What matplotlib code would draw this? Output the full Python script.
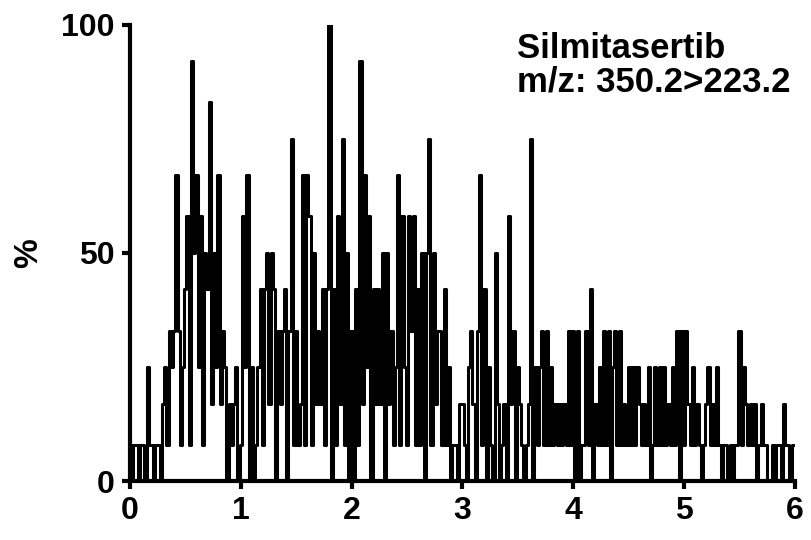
import numpy as np
import matplotlib
matplotlib.use('Agg')
import matplotlib.pyplot as plt

plt.rcParams['font.family'] = ['Liberation Sans', 'DejaVu Sans']
plt.rcParams['font.weight'] = 'bold'

# chromatogram trace (% of max), one point every 0.02 min
t_step = 0.02
intensity = [
    8, 0, 8, 8, 0, 8, 8, 0, 25, 8,
    8, 0, 8, 8, 0, 17, 25, 8, 33, 25,
    33, 67, 33, 8, 25, 42, 58, 8, 92, 50,
    67, 25, 58, 8, 50, 42, 83, 17, 50, 25,
    67, 17, 33, 25, 0, 17, 8, 17, 25, 0,
    8, 58, 25, 67, 0, 25, 0, 8, 25, 42,
    8, 42, 50, 17, 50, 42, 0, 33, 17, 33,
    42, 0, 33, 75, 8, 33, 8, 17, 67, 8,
    67, 58, 8, 50, 17, 33, 17, 42, 8, 42,
    100, 0, 42, 8, 58, 17, 75, 8, 50, 0,
    33, 0, 42, 8, 92, 17, 67, 25, 58, 0,
    42, 17, 42, 17, 50, 0, 50, 17, 33, 8,
    25, 67, 8, 58, 25, 8, 58, 33, 58, 8,
    42, 8, 50, 0, 50, 75, 8, 50, 17, 33,
    33, 8, 42, 8, 25, 0, 8, 8, 0, 17,
    17, 8, 0, 25, 33, 17, 0, 33, 67, 8,
    42, 0, 25, 8, 0, 50, 17, 0, 8, 17,
    0, 58, 17, 33, 0, 25, 17, 8, 0, 8,
    17, 75, 0, 25, 8, 25, 33, 8, 33, 8,
    25, 8, 17, 8, 17, 8, 17, 8, 33, 8,
    33, 0, 33, 0, 8, 8, 33, 8, 42, 0,
    17, 8, 25, 8, 33, 8, 33, 0, 25, 33,
    8, 33, 8, 17, 8, 25, 8, 25, 8, 25,
    17, 8, 17, 8, 25, 0, 8, 25, 8, 25,
    8, 25, 8, 17, 8, 25, 8, 33, 0, 33,
    8, 33, 17, 8, 25, 8, 17, 8, 0, 8,
    17, 25, 8, 17, 8, 25, 8, 0, 8, 8,
    0, 8, 0, 8, 8, 33, 8, 25, 17, 8,
    17, 8, 17, 0, 8, 17, 8, 8, 0, 0,
    8, 0, 8, 8, 0, 17, 8, 8, 0, 8, 8,
]
time = np.arange(len(intensity)) * t_step

xticks = [0, 1, 2, 3, 4, 5, 6]
yticks = [0, 50, 100]
compound = 'Silmitasertib'
transition = 'm/z: 350.2>223.2'

fig = plt.figure(figsize=(8.12, 5.40), dpi=100)
ax = fig.add_axes([0.160, 0.109, 0.819, 0.845])

ax.plot(time, intensity, color='black', lw=2.2, drawstyle='steps-mid')

ax.set_xlim(0, 6)
ax.set_ylim(0, 100)
ax.set_xticks(xticks)
ax.set_yticks(yticks)
ax.set_ylabel('%', fontsize=24, fontweight='bold', labelpad=12)

for s in ['top', 'right']:
    ax.spines[s].set_visible(False)
for s in ['left', 'bottom']:
    ax.spines[s].set_linewidth(3)
ax.tick_params(width=3, length=6, labelsize=23, pad=5)

ax.text(0.582, 0.985, compound + '\n' + transition, transform=ax.transAxes,
        fontsize=25, fontweight='bold', va='top', ha='left', linespacing=1.05)

fig.savefig('out.png', dpi=100)
